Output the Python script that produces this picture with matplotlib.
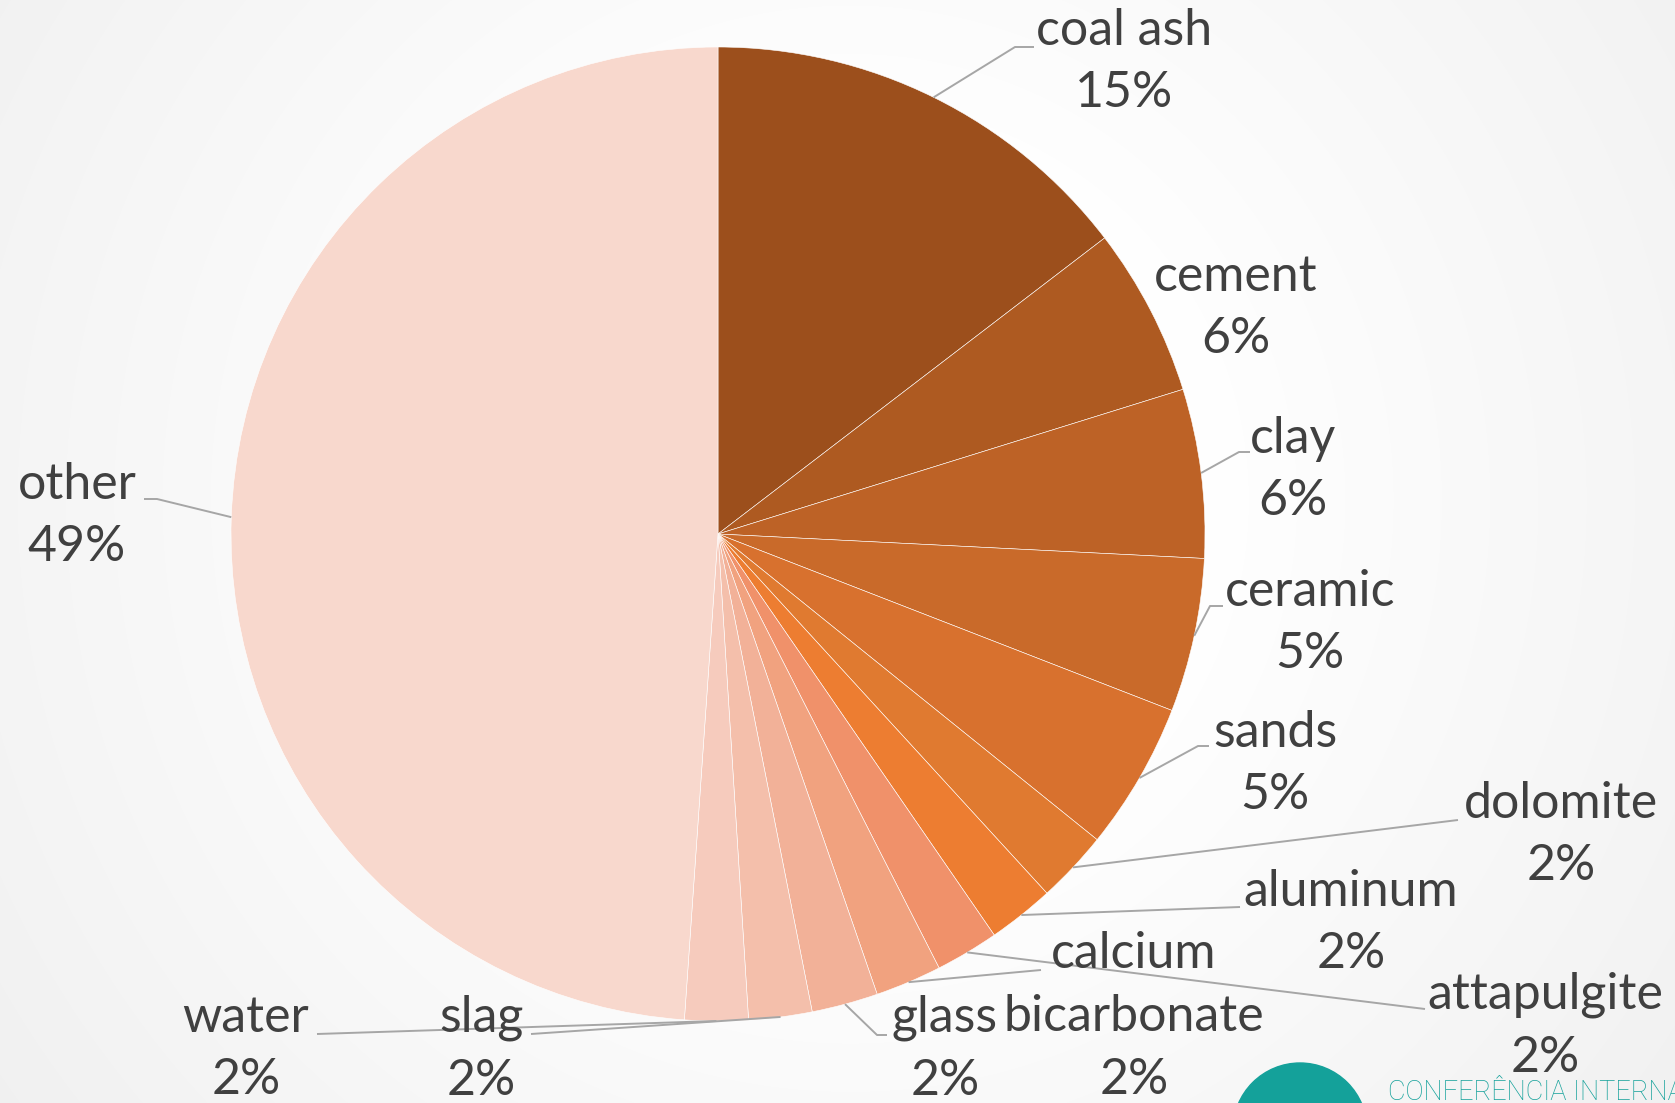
import matplotlib

matplotlib.use("Agg")
import matplotlib.pyplot as plt
import numpy as np
from matplotlib.patches import Circle

W, H = 1675, 1103

# share of each material (percent), clockwise from 12 o'clock
materials = [
    "coal ash", "cement", "clay", "ceramic", "sands", "dolomite", "aluminum",
    "attapulgite", "calcium\nbicarbonate", "glass", "slag", "water", "other",
]
shares = [14.6, 5.6, 5.6, 5.1, 4.9, 2.4, 2.2, 2.1, 2.2, 2.2, 2.1, 2.1, 48.9]
slice_colors = [
    "#9C4F1C", "#AE5A21", "#BD6226", "#C96A2A", "#D8712E", "#E07A30", "#ED7D31",
    "#F0916A", "#F1A27F", "#F2B198", "#F4BFAB", "#F6CBBD", "#F8D8CD",
]

# label block centres and leader bends, pixel coords measured from the top-left
label_xy = {
    "coal ash": (1124, 62),
    "cement": (1236, 308),
    "clay": (1293, 470),
    "ceramic": (1310, 623),
    "sands": (1275, 764),
    "dolomite": (1561, 835),
    "aluminum": (1351, 923),
    "attapulgite": (1545, 1026),
    "calcium\nbicarbonate": (1134, 1017),
    "glass": (945, 1049),
    "slag": (481, 1049),
    "water": (246, 1049),
    "other": (77, 516),
}
leader_bends = {
    "coal ash": [(1015, 47), (1034, 47)],
    "clay": [(1239, 452), (1250, 452)],
    "ceramic": [(1210, 606), (1223, 606)],
    "sands": [(1198, 746), (1209, 746)],
    "dolomite": [(1458, 820)],
    "aluminum": [(1240, 907)],
    "attapulgite": [(1425, 1009)],
    "calcium\nbicarbonate": [(1041, 970)],
    "glass": [(877, 1035), (887, 1035)],
    "slag": [(531, 1034)],
    "water": [(317, 1034)],
    "other": [(157, 499), (144, 499)],
}

CX, CY, R = 718, 534, 487
TEXT_COLOR = "#404040"
LINE_COLOR = "#A6A6A6"
TEAL = "#14A19A"


def flip(y):
    return H - y


fig = plt.figure(figsize=(W / 100, H / 100), dpi=100)
ax = fig.add_axes([0, 0, 1, 1])

# soft radial backdrop, white in the middle and light grey toward the corners
yy, xx = np.mgrid[0:H, 0:W]
dist = np.hypot(xx - 850, yy - 500)
t = np.clip((dist - 350) / 800, 0, 1)
shade = 1 - 0.065 * t
ax.imshow(np.dstack([shade] * 3), extent=(0, W, 0, H), origin="upper", zorder=0)

wedges, _ = ax.pie(
    shares,
    colors=slice_colors,
    startangle=90,
    counterclock=False,
    radius=R,
    center=(CX, flip(CY)),
    wedgeprops=dict(edgecolor="#FFFFFF", linewidth=0.4),
)

total = sum(shares)
for name, value, wedge in zip(materials, shares, wedges):
    pct = value / total * 100
    tx, ty = label_xy[name]
    ax.text(
        tx, flip(ty), f"{name}\n{pct:.0f}%",
        ha="center", va="center", fontsize=36, family="Lato",
        color=TEXT_COLOR, linespacing=1.45, zorder=5,
    )
    if name in leader_bends:
        mid = np.deg2rad((wedge.theta1 + wedge.theta2) / 2)
        xs = [CX + R * np.cos(mid)] + [p[0] for p in leader_bends[name]]
        ys = [flip(CY) + R * np.sin(mid)] + [flip(p[1]) for p in leader_bends[name]]
        ax.plot(xs, ys, color=LINE_COLOR, lw=1.4, zorder=4, solid_capstyle="butt")

# conference mark in the lower right corner
ax.add_patch(Circle((1300, flip(1130)), 67, color=TEAL, zorder=3))
ax.add_patch(Circle((1303, flip(1142)), 36, color="white", zorder=3))
ax.text(1388, flip(1100), "CONFERÊNCIA INTERNA", color=TEAL, fontsize=19.5,
        family="Roboto", weight="light", ha="left", va="baseline", zorder=3)

ax.set_xlim(0, W)
ax.set_ylim(0, H)
ax.set_aspect("equal")
ax.axis("off")

fig.savefig("out.png", dpi=100)
